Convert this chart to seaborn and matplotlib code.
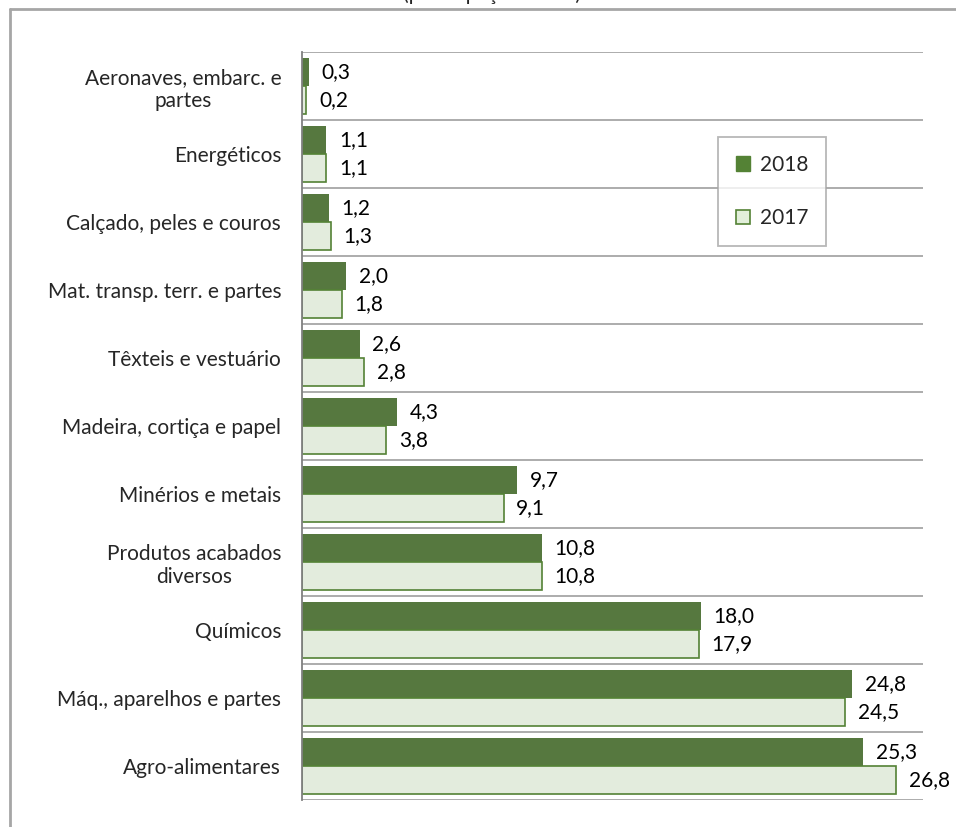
import pandas as pd
import matplotlib.pyplot as plt
import seaborn as sns
from matplotlib.lines import Line2D
from matplotlib.patches import Patch

# ------------ DATA ------------
categories = [
    "Aeronaves, embarc. e\npartes",
    "Energéticos",
    "Calçado, peles e couros",
    "Mat. transp. terr. e partes",
    "Têxteis e vestuário",
    "Madeira, cortiça e papel",
    "Minérios e metais",
    "Produtos acabados\ndiversos",
    "Químicos",
    "Máq., aparelhos e partes",
    "Agro-alimentares",
]
values_2018 = [0.3, 1.1, 1.2, 2.0, 2.6, 4.3, 9.7, 10.8, 18.0, 24.8, 25.3]
values_2017 = [0.2, 1.1, 1.3, 1.8, 2.8, 3.8, 9.1, 10.8, 17.9, 24.5, 26.8]
years = ["2018", "2017"]

DARK = "#548235"
LIGHT = "#E2EFDA"
GRID = "#A6A6A6"
FS = 15

df = pd.DataFrame({
    "categoria": categories * 2,
    "ano": ["2018"] * len(categories) + ["2017"] * len(categories),
    "valor": values_2018 + values_2017,
})

# ------------ PLOT ------------
sns.set_style("white")
plt.rcParams["font.family"] = ["Lato", "DejaVu Sans"]

fig = plt.figure(figsize=(9.56, 8.27), dpi=100)
ax = fig.add_axes([302 / 956, 1 - 800 / 827, 621 / 956, 748 / 827])

sns.barplot(data=df, y="categoria", x="valor", hue="ano", hue_order=years,
            order=categories, orient="h", palette={"2018": DARK, "2017": LIGHT},
            width=0.82, ax=ax, legend=False)

for cont, year in zip(ax.containers, years):
    for bar in cont:
        bar.set_edgecolor(DARK)
        bar.set_linewidth(1.2 if year == "2017" else 0)
    labels = [f"{v:.1f}".replace(".", ",") for v in cont.datavalues]
    ax.bar_label(cont, labels=labels, padding=9, fontsize=FS, color="#000000")

ax.set_xlim(0, 28)
ax.set_ylim(len(categories) - 0.5, -0.5)
ax.hlines([i - 0.5 for i in range(len(categories) + 1)], 0, 28,
          color=GRID, lw=1.3, zorder=0)
for s in ["top", "right", "bottom"]:
    ax.spines[s].set_visible(False)
ax.spines["left"].set_color("#808080")
ax.spines["left"].set_linewidth(1.3)
ax.set_xticks([])
ax.set_xlabel("")
ax.set_ylabel("")
ax.tick_params(axis="y", length=0, pad=15, labelsize=FS)
for lbl in ax.get_yticklabels():
    lbl.set_multialignment("center")

handles = [
    Patch(facecolor=DARK, edgecolor=DARK, label="2018"),
    Patch(facecolor=LIGHT, edgecolor=DARK, linewidth=1.2, label="2017"),
]
leg = ax.legend(handles=handles, loc="upper left", bbox_to_anchor=(0.67, 0.886),
                frameon=True, fancybox=False, edgecolor=GRID, fontsize=FS,
                handlelength=0.7, handleheight=0.7, handletextpad=0.45,
                labelspacing=1.6, borderpad=0.85, borderaxespad=0)
leg.get_frame().set_linewidth(1.3)

# outer chart frame (continues past the image edge)
fig.add_artist(Line2D([10 / 956, 10 / 956], [1 - 9 / 827, 0], transform=fig.transFigure,
                      color=GRID, lw=2))
fig.add_artist(Line2D([10 / 956, 1], [1 - 9 / 827, 1 - 9 / 827], transform=fig.transFigure,
                      color=GRID, lw=2))

# title, mostly above the visible area
fig.text(492 / 956, 1 - 0.5 / 827, "(participação em %)", ha="center", va="baseline",
         fontsize=FS)

fig.savefig("out.png", dpi=100)
plt.close(fig)
